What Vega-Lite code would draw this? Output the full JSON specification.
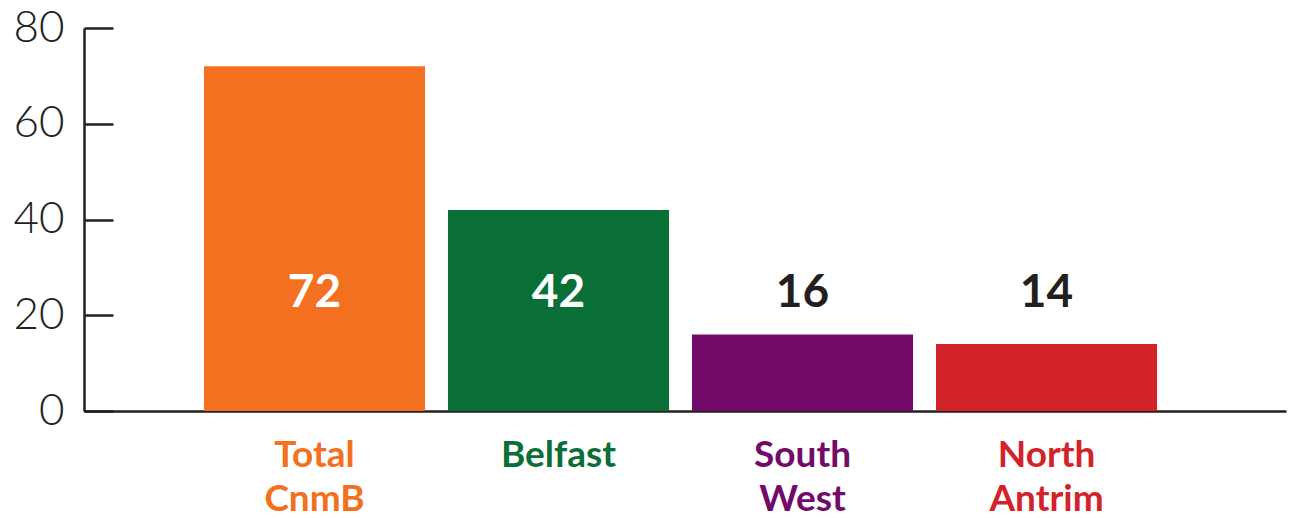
{
  "$schema": "https://vega.github.io/schema/vega-lite/v6.json",
  "width": 1202,
  "height": 383,
  "autosize": {"type": "none"},
  "padding": {"left": 84, "top": 28, "right": 5, "bottom": 107},
  "background": "white",
  "config": {"view": {"stroke": null}},
  "data": {"values": [
    {"region": "Total CnmB", "value": 72},
    {"region": "Belfast", "value": 42},
    {"region": "South West", "value": 16},
    {"region": "North Antrim", "value": 14}
  ]},
  "encoding": {
    "x": {
      "field": "region", "type": "nominal", "sort": null,
      "scale": {"paddingInner": 0.094, "paddingOuter": 0.51, "align": 0.482},
      "axis": {
        "title": null,
        "domainColor": "#231f20", "domainWidth": 2.5,
        "ticks": false,
        "labelAngle": 0,
        "labelFont": "Lato", "labelFontWeight": "bold", "labelFontSize": 37,
        "labelLineHeight": 44,
        "labelPadding": 26,
        "labelExpr": "split(datum.label, ' ')",
        "labelColor": {"expr": "datum.value == 'Total CnmB' ? '#f37021' : datum.value == 'Belfast' ? '#0a6e37' : datum.value == 'South West' ? '#720a69' : '#d2232a'"}
      }
    }
  },
  "layer": [
    {
      "mark": {"type": "bar"},
      "encoding": {
        "y": {
          "field": "value", "type": "quantitative",
          "scale": {"domain": [0, 80], "nice": false},
          "axis": {
            "title": null, "grid": false,
            "values": [0, 20, 40, 60, 80],
            "domainColor": "#231f20", "domainWidth": 2.5,
            "tickColor": "#231f20", "tickWidth": 2.5, "tickSize": -29,
            "labelFont": "Lato", "labelFontWeight": 300, "labelFontSize": 44,
            "labelColor": "#231f20", "labelPadding": 49
          }
        },
        "color": {
          "field": "region", "type": "nominal", "legend": null,
          "scale": {
            "domain": ["Total CnmB", "Belfast", "South West", "North Antrim"],
            "range": ["#f37021", "#0a6e37", "#720a69", "#d2232a"]
          }
        }
      }
    },
    {
      "mark": {"type": "text", "font": "Lato", "fontWeight": "bold", "fontSize": 46, "baseline": "middle"},
      "encoding": {
        "y": {"datum": 24.6, "type": "quantitative"},
        "text": {"field": "value", "type": "quantitative"},
        "color": {
          "condition": {"test": "datum.value > 30", "value": "white"},
          "value": "#231f20"
        }
      }
    }
  ]
}
